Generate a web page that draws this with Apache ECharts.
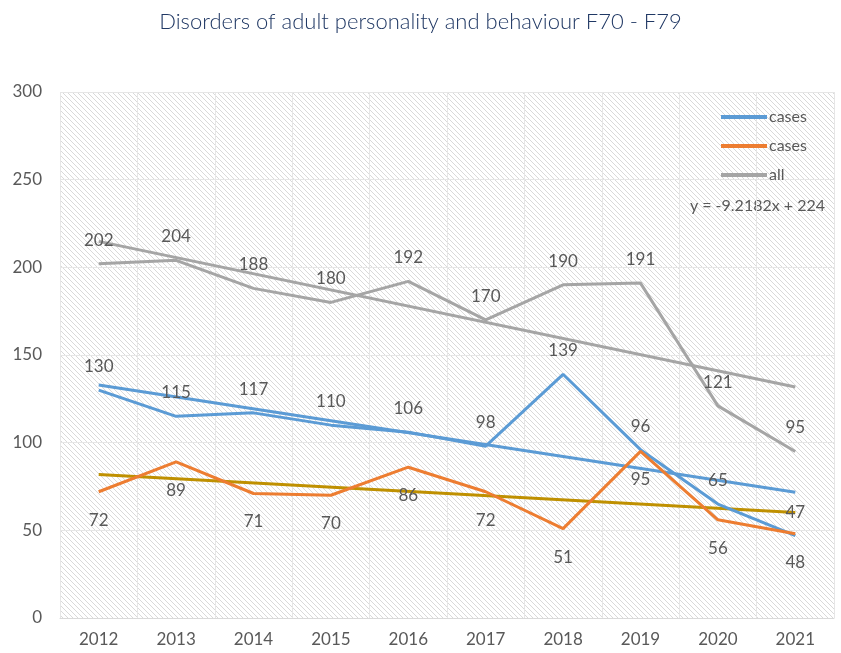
<!DOCTYPE html>
<html>
<head>
<meta charset="utf-8">
<script src="https://cdn.jsdelivr.net/npm/echarts@6/dist/echarts.min.js"></script>
<style>
  html, body { margin: 0; padding: 0; background: #fff; }
  #main { width: 841px; height: 653px; }
</style>
</head>
<body>
<div id="main"></div>
<script>
var years = ['2012', '2013', '2014', '2015', '2016', '2017', '2018', '2019', '2020', '2021'];
var casesA = [130, 115, 117, 110, 106, 98, 139, 96, 65, 47];
var casesB = [72, 89, 71, 70, 86, 72, 51, 95, 56, 48];
var allCases = [202, 204, 188, 180, 192, 170, 190, 191, 121, 95];
// trendline ends (first year, last year)
var trendA = [132.9, 71.7];
var trendB = [81.8, 60.2];
var trendAll = [214.8, 131.8];
var yTicks = [0, 50, 100, 150, 200, 250, 300];

var FONT = 'Lato';
var TXT = '#595959';

// diagonal hatch for the plot area
var tile = document.createElement('canvas');
tile.width = 5; tile.height = 5;
var tc = tile.getContext('2d');
tc.fillStyle = '#ffffff';
tc.fillRect(0, 0, 5, 5);
tc.fillStyle = '#d9d9d9';
for (var i = 0; i < 5; i++) tc.fillRect(i, i, 1, 1);

function trend(name, ends, color) {
    return {
        name: name,
        type: 'line',
        data: [[0, ends[0]], [years.length - 1, ends[1]]],
        symbol: 'none',
        silent: true,
        lineStyle: { color: color, width: 3 },
        z: 1
    };
}

function dataLine(name, values, color, pos, dist) {
    return {
        name: name,
        type: 'line',
        data: values,
        symbol: 'circle',
        symbolSize: 0,
        showSymbol: true,
        lineStyle: { color: color, width: 3 },
        itemStyle: { color: color },
        label: {
            show: true,
            position: pos,
            distance: dist,
            color: TXT,
            fontSize: 17,
            fontFamily: FONT
        },
        labelLayout: { hideOverlap: false },
        z: 3
    };
}

var chart = echarts.init(document.getElementById('main'));
chart.setOption({
    animation: false,
    backgroundColor: '#fff',
    title: {
        text: 'Disorders of adult personality and behaviour F70 - F79',
        left: 'center',
        top: 6,
        textStyle: { fontFamily: FONT, fontWeight: 300, fontSize: 22, color: '#203864' }
    },
    grid: {
        left: 60, right: 7, top: 92, bottom: 35,
        show: true,
        borderWidth: 0,
        backgroundColor: { image: tile, repeat: 'repeat' }
    },
    legend: {
        data: ['cases', 'cases ', 'all'],
        orient: 'vertical',
        right: 25,
        top: 104,
        itemWidth: 46,
        itemHeight: 4,
        itemGap: 13,
        itemStyle: { borderWidth: 0 },
        icon: 'rect',
        textStyle: { color: TXT, fontSize: 16, fontFamily: FONT, padding: [0, 0, 0, -3] }
    },
    graphic: [{
        type: 'text',
        right: 16,
        top: 198,
        style: { text: 'y = -9.2182x + 224', fill: TXT, fontSize: 16, fontFamily: FONT }
    }],
    xAxis: [{
        type: 'category',
        data: years,
        boundaryGap: true,
        axisLine: { lineStyle: { color: '#d9d9d9', width: 1 } },
        axisTick: { show: false },
        axisLabel: { color: TXT, fontSize: 17, fontFamily: FONT, margin: 13 },
        splitLine: { show: true, lineStyle: { color: '#e6e6e6', width: 1 } }
    }, {
        // half-category gridlines
        type: 'value',
        min: 0, max: years.length * 2, interval: 1,
        show: false,
        splitLine: { show: true, lineStyle: { color: '#e6e6e6', width: 1 } }
    }],
    yAxis: {
        type: 'value',
        min: yTicks[0],
        max: yTicks[yTicks.length - 1],
        interval: 50,
        axisLine: { show: false },
        axisTick: { show: false },
        axisLabel: { color: TXT, fontSize: 17, fontFamily: FONT, margin: 18 },
        splitLine: { lineStyle: { color: '#e6e6e6', width: 1 } }
    },
    series: [
        trend('trend cases', trendA, '#5b9bd5'),
        trend('trend cases 2', trendB, '#bf9000'),
        trend('trend all', trendAll, '#a5a5a5'),
        dataLine('cases', casesA, '#5b9bd5', 'top', 15),
        dataLine('cases ', casesB, '#ed7d31', 'bottom', 20),
        dataLine('all', allCases, '#a5a5a5', 'top', 15)
    ]
});
</script>
</body>
</html>
